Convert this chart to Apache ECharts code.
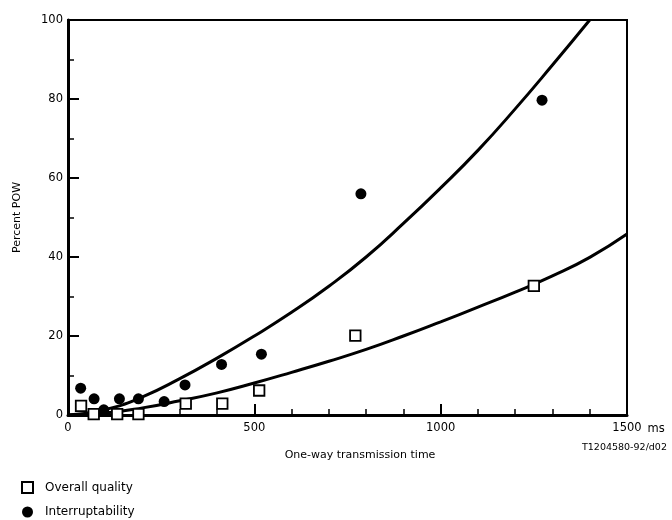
<!DOCTYPE html>
<html>
<head>
<meta charset="utf-8">
<script src="https://cdn.jsdelivr.net/npm/echarts@6/dist/echarts.min.js"></script>
<style>html,body{margin:0;padding:0;background:#fff}#c{width:672px;height:520px}</style>
</head>
<body>
<div id="c"></div>
<script>
// Measured points
var overallQuality = [[35,2.3],[69,0.2],[132,0.2],[189,0.2],[316,2.9],[414,2.9],[513,6.2],[771,20.1],[1250,32.7]];
var interruptability = [[34,6.8],[70,4.1],[96,1.3],[138,4.1],[189,4.1],[258,3.4],[314,7.6],[412,12.8],[519,15.4],[786,56],[1272,79.7]];
// Fitted curves
var curveTimes = [0,100,200,300,400,500,600,700,800,900,1000,1100,1200,1300,1400,1500];
var curveInterrupt = [0,1.4,4.6,9.2,14.4,20,26,32.6,40,48.5,57.5,67,77.5,88.6,100,null];
var curveOverall = [0,0.5,1.8,3.6,5.6,8.1,10.8,13.6,16.6,20,23.6,27.3,31.1,35.2,39.9,45.8];
var xTicks = [0,500,1000,1500];
var yTicks = [0,20,40,60,80,100];

function pairs(xs, ys){ var out=[]; for(var i=0;i<xs.length;i++){ if(ys[i]!==null) out.push([xs[i],ys[i]]); } return out; }

var font = '"DejaVu Sans", Verdana, sans-serif';
var chart = echarts.init(document.getElementById('c'));
chart.setOption({
  animation:false,
  backgroundColor:'#fff',
  textStyle:{fontFamily:font,color:'#000'},
  grid:{left:68,right:45,top:20,bottom:105,show:true,borderColor:'#000',borderWidth:2,backgroundColor:'transparent'},
  xAxis:{type:'value',min:xTicks[0],max:xTicks[xTicks.length-1],interval:500,
    axisLine:{show:true,onZero:false,lineStyle:{color:'#000',width:3}},
    axisTick:{show:true,inside:true,length:11,lineStyle:{color:'#000',width:2}},
    minorTick:{show:true,splitNumber:5,length:6,lineStyle:{color:'#000',width:1.5}},
    splitLine:{show:false},
    axisLabel:{color:'#000',fontSize:11.5,fontFamily:font,margin:7,formatter:function(v){return String(v);}},
    name:'ms',nameLocation:'end',nameGap:19,
    nameTextStyle:{color:'#000',fontSize:11.5,fontFamily:font,verticalAlign:'top',padding:[8,0,0,0]}
  },
  yAxis:{type:'value',min:yTicks[0],max:yTicks[yTicks.length-1],interval:20,
    axisLine:{show:true,onZero:false,lineStyle:{color:'#000',width:3}},
    axisTick:{show:true,inside:true,length:11,lineStyle:{color:'#000',width:2}},
    minorTick:{show:true,splitNumber:2,length:6,lineStyle:{color:'#000',width:1.5}},
    splitLine:{show:false},
    axisLabel:{color:'#000',fontSize:11.5,fontFamily:font,margin:5,formatter:function(v){return String(v);}},
    name:'Percent POW',nameLocation:'middle',nameRotate:90,nameGap:45,
    nameTextStyle:{color:'#000',fontSize:11,fontFamily:font}
  },
  legend:{orient:'vertical',left:21,top:481,padding:0,itemWidth:11,itemHeight:11,itemGap:12,
    data:['Overall quality','Interruptability'],
    textStyle:{color:'#000',fontSize:12,fontFamily:font,padding:[0,0,0,7]}
  },
  graphic:[
    {type:'text',x:360,y:455,style:{text:'One-way transmission time',font:'11px '+font,fill:'#000',align:'center',verticalAlign:'middle'}},
    {type:'text',x:582,y:448,style:{text:'T1204580-92/d02',font:'9.5px '+font,fill:'#000',align:'left',verticalAlign:'middle'}}
  ],
  series:[
    {name:'Interruptability fit',type:'line',smooth:true,showSymbol:false,symbol:'none',data:pairs(curveTimes,curveInterrupt),
      lineStyle:{color:'#000',width:3},z:2},
    {name:'Overall quality fit',type:'line',smooth:true,showSymbol:false,symbol:'none',data:pairs(curveTimes,curveOverall),
      lineStyle:{color:'#000',width:3},z:2},
    {name:'Interruptability',type:'scatter',symbol:'circle',symbolSize:11,data:interruptability,
      itemStyle:{color:'#000',opacity:1},z:3},
    {name:'Overall quality',type:'scatter',symbol:'rect',symbolSize:10.5,data:overallQuality,
      itemStyle:{color:'#fff',borderColor:'#000',borderWidth:1.8,opacity:1},z:4}
  ]
});
</script>
</body>
</html>
